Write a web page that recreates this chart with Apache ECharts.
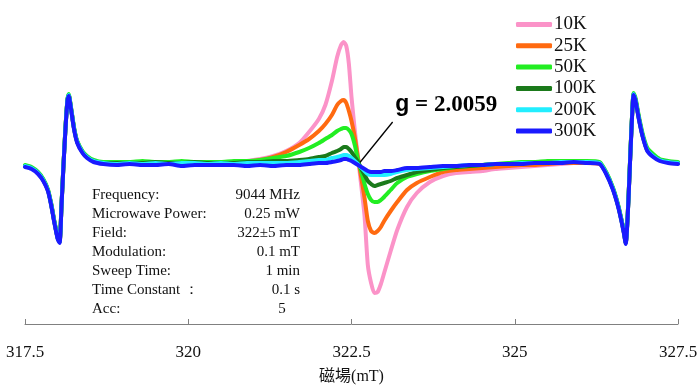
<!DOCTYPE html>
<html><head><meta charset="utf-8">
<script src="https://cdn.jsdelivr.net/npm/echarts/dist/echarts.min.js"></script>
<style>html,body{margin:0;padding:0;background:#fff}#c{width:700px;height:388px}</style>
</head><body><div id="c"></div>
<script>
// Magnetic field (mT) sample positions shared by all spectra
const fieldMT = [
  317.50,317.60,317.70,317.78,317.85,317.90,317.95,318.00,318.03,318.06,
  318.09,318.12,318.15,318.17,318.20,318.25,318.30,318.38,318.45,318.55,
  318.70,318.90,319.10,319.30,319.50,319.70,319.90,320.10,320.30,320.50,
  320.70,320.90,321.10,321.30,321.50,321.70,321.85,322.00,322.10,322.20,
  322.28,322.34,322.38,322.42,322.46,322.50,322.55,322.60,322.65,322.70,
  322.75,322.80,322.85,322.90,322.95,323.00,323.10,323.20,323.35,323.50,
  323.70,323.90,324.10,324.30,324.50,324.70,324.90,325.10,325.30,325.50,
  325.70,325.90,326.10,326.30,326.40,326.50,326.58,326.64,326.67,326.70,
  326.73,326.76,326.79,326.82,326.85,326.90,326.96,327.03,327.12,327.22,
  327.35,327.50
];
const seriesNames = ['10K','25K','50K','100K','200K','300K'];
const signal10K = [
  -2,-4,-9,-16,-26,-40,-58,-74,-78,-40,
  0,36,64,69,58,36,22,12,7,3,
  1,1,0,1,0,1,1,0,1,1,
  2,3,5,8,13,21,32,45,59,83,
  107,119,122,118,100,67,34,6,-22,-52,
  -101,-119,-129,-128,-120,-109,-87,-66,-43,-29,
  -18,-12,-9,-8,-7,-5,-4,-3,-2,-1,
  0,1,1,0,-9,-24,-41,-58,-68,-79,
  -51,-6,39,70,64,46,28,14,8,4,
  2,1
];
const signal25K = [
  -2,-4,-9,-16,-26,-40,-58,-74,-78,-40,
  0,36,64,69,58,36,22,12,7,3,
  1,1,1,0,1,1,0,1,1,1,
  1,2,4,7,12,19,25,33,40,49,
  59,63,64,61,53,43,27,6,-14,-34,
  -57,-67,-69,-67,-63,-57,-47,-38,-26,-19,
  -13,-8,-6,-5,-4,-3,-2,-1,-1,0,
  1,1,1,0,-9,-24,-41,-58,-68,-79,
  -51,-6,39,70,64,46,28,14,8,4,
  2,1
];
const signal50K = [
  -1,-3,-8,-15,-25,-39,-57,-73,-77,-39,
  1,37,65,70,59,37,23,13,8,4,
  2,2,2,3,2,2,3,2,2,2,
  3,3,4,6,8,12,16,21,25,29,
  33,35,36,36,34,30,19,4,-8,-20,
  -30,-36,-38,-38,-36,-33,-26,-19,-13,-10,
  -7,-5,-3,-2,-1,0,1,2,2,3,
  3,3,3,2,-8,-23,-40,-57,-67,-78,
  -50,-5,40,71,66,48,30,16,10,5,
  3,2
];
const signal100K = [
  -2,-4,-9,-16,-26,-40,-58,-74,-78,-40,
  0,36,64,69,58,36,22,12,7,3,
  1,1,1,1,2,1,1,2,1,1,
  1,2,2,3,3,4,5,7,8,11,
  13,15,17,17,15,12,7,2,-5,-11,
  -17,-20,-22,-21,-20,-19,-17,-14,-11,-8,
  -6,-4,-3,-2,-1,0,0,1,1,1,
  2,2,2,1,-9,-24,-41,-58,-68,-79,
  -51,-6,39,70,64,46,28,14,8,4,
  2,1
];
const signal200K = [
  -2,-4,-9,-16,-26,-40,-58,-74,-78,-40,
  0,36,64,69,58,36,22,12,7,3,
  1,0,1,0,1,0,1,1,0,1,
  0,1,1,1,1,2,3,4,4,6,
  7,8,9,9,8,6,3,0,-4,-7,
  -10,-11,-11,-11,-11,-11,-10,-8,-6,-5,
  -4,-3,-2,-1,-1,0,0,1,1,1,
  2,2,2,1,-9,-24,-41,-58,-68,-79,
  -51,-6,39,70,64,46,28,14,8,4,
  2,1
];
const signal300K = [
  -3,-5,-10,-17,-27,-41,-59,-75,-79,-41,
  -1,35,63,68,57,35,21,11,6,2,
  0,-1,0,-1,-1,0,-2,-1,-1,-1,
  -1,-2,-1,-2,-1,-1,0,1,1,2,
  3,4,5,5,4,3,1,-1,-3,-5,
  -7,-8,-8,-8,-8,-7,-7,-6,-4,-4,
  -3,-2,-2,-1,-1,0,0,0,1,1,
  1,2,1,0,-10,-25,-42,-59,-69,-80,
  -52,-7,38,69,63,45,27,13,7,3,
  1,0
];
const signals = [signal10K, signal25K, signal50K, signal100K, signal200K, signal300K];
const seriesColors = ['#fb93c8','#ff6a10','#22ee22','#1b7a1b','#22eeff','#1a1aff'];
const xTicks = [317.5, 320, 322.5, 325, 327.5];
const gValueText = 'g = 2.0059';
const gPointer = [[322.61, 0], [323.13, 42]];
const infoLabels = ['Frequency:', 'Microwave Power:', 'Field:', 'Modulation:', 'Sweep Time:', 'Time Constant ：', 'Acc:'];
const infoValues = ['9044 MHz', '0.25 mW', '322±5 mT', '0.1 mT', '1 min', '0.1 s', '5'];
const axisTitle = '磁場(mT)';

const chart = echarts.init(document.getElementById('c'), null, {renderer: 'canvas'});
const serif = '"Liberation Serif","Times New Roman",serif';

const series = seriesNames.map((name, i) => {
  const s = {
    name, type: 'line', showSymbol: false, symbol: 'none', smooth: 0.2,
    data: fieldMT.map((x, k) => [x, signals[i][k]]),
    lineStyle: {color: seriesColors[i], width: 4, cap: 'round', join: 'round'},
    itemStyle: {color: seriesColors[i]},
    z: 2 + i, animation: false
  };
  if (i === seriesNames.length - 1) {
    s.markLine = {
      silent: true, symbol: ['none', 'none'], animation: false,
      lineStyle: {color: '#000', width: 1.3, type: 'solid'},
      label: {show: false},
      data: [[{coord: gPointer[0]}, {coord: gPointer[1]}]]
    };
    s.markPoint = {
      silent: true, animation: false,
      data: [{
        coord: [gPointer[1][0] + 0.04, gPointer[1][1] + 17], symbol: 'circle', symbolSize: 0,
        label: {
          show: true, position: 'right', distance: 0,
          formatter: '{g|g}{n|' + gValueText.slice(1) + '}',
          rich: {
            g: {fontFamily: '"Liberation Sans",Arial,sans-serif', fontWeight: 'bold', fontSize: 23, color: '#000'},
            n: {fontFamily: serif, fontWeight: 'bold', fontSize: 23, color: '#000'}
          }
        }
      }]
    };
  }
  return s;
});

const graphic = [];
infoLabels.forEach((t, i) => {
  const y = 195 + i * 19;
  graphic.push({type: 'text', x: 92, y: y,
    style: {text: t, font: '15px ' + serif, fill: '#111', textAlign: 'left', textVerticalAlign: 'middle'}});
  const last = i === infoLabels.length - 1;
  graphic.push({type: 'text', x: last ? 282 : 300, y: y,
    style: {text: infoValues[i], font: '15px ' + serif, fill: '#111',
      textAlign: last ? 'center' : 'right', textVerticalAlign: 'middle'}});
});

chart.setOption({
  backgroundColor: '#fff',
  animation: false,
  grid: {left: 25, right: 22, top: 24, bottom: 64, containLabel: false, outerBoundsMode: 'none'},
  legend: {
    orient: 'vertical', left: 511, top: 10, itemGap: 2.3,
    itemWidth: 36, itemHeight: 5, icon: 'roundRect',
    textStyle: {fontFamily: serif, fontSize: 19, color: '#111', lineHeight: 18, padding: [0, 0, 0, -3]},
    data: seriesNames
  },
  xAxis: {
    type: 'value', min: 317.5, max: 327.5, interval: 2.5,
    name: axisTitle, nameLocation: 'middle', nameGap: 45,
    nameTextStyle: {fontFamily: serif + ',"Noto Sans CJK TC"', fontSize: 16, color: '#111'},
    axisLine: {onZero: false, lineStyle: {color: '#808080', width: 1}},
    axisTick: {show: true, inside: true, length: 5, lineStyle: {color: '#808080'}},
    axisLabel: {fontFamily: serif, fontSize: 17, color: '#111', margin: 20,
      formatter: v => xTicks.includes(v) ? String(v) : ''},
    splitLine: {show: false}
  },
  yAxis: {type: 'value', min: -160, max: 140, show: false},
  graphic,
  series
});
</script></body></html>
